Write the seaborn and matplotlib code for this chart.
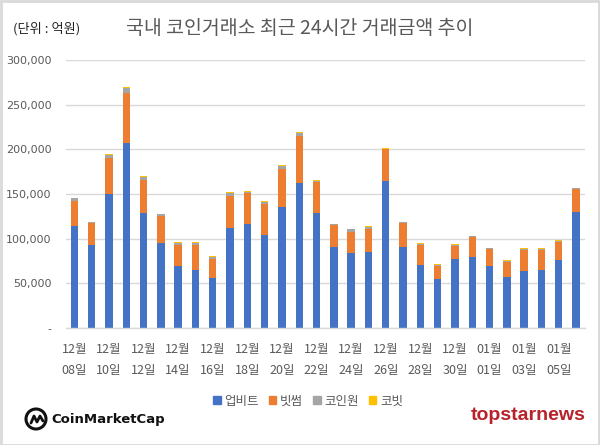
import matplotlib
matplotlib.use("Agg")
import matplotlib.pyplot as plt
import matplotlib.patches as mpatches
import numpy as np
import pandas as pd
import seaborn as sns

# ---- data (억원) ----
dates = ["12/08", "12/09", "12/10", "12/11", "12/12", "12/13", "12/14", "12/15",
         "12/16", "12/17", "12/18", "12/19", "12/20", "12/21", "12/22", "12/23",
         "12/24", "12/25", "12/26", "12/27", "12/28", "12/29", "12/30", "12/31",
         "01/01", "01/02", "01/03", "01/04", "01/05", "01/06"]
upbit = [113700, 93200, 150200, 207200, 129000, 95400, 69700, 65200, 56300, 112200,
         115900, 103600, 134900, 161800, 129000, 90900, 84200, 85400, 164700, 90900,
         70800, 55200, 77500, 79800, 69700, 57400, 63400, 65200, 76400, 130100]
bithumb = [28700, 24200, 40300, 55600, 36900, 29500, 23100, 27600, 21200, 36100,
           34700, 35000, 43300, 53300, 34600, 23900, 23500, 25300, 35400, 26100,
           22000, 14100, 14200, 21600, 18600, 16000, 23800, 22000, 20100, 25300]
coinone = [2600, 1100, 3700, 6300, 2900, 2200, 2600, 2600, 1900, 2700,
           1800, 3000, 3300, 2900, 1500, 1100, 2600, 2600, 800, 1200,
           1100, 1100, 1100, 1100, 800, 1500, 1100, 1100, 800, 800]
korbit = [800, 600, 900, 1100, 1000, 700, 800, 800, 700, 1100,
          1000, 1000, 1000, 1200, 800, 700, 800, 1000, 500, 700,
          700, 700, 700, 700, 700, 700, 700, 700, 700, 600]
series_names = ["업비트", "빗썸", "코인원", "코빗"]
colors = ["#4472C4", "#ED7D31", "#A5A5A5", "#FFC000"]
ytick_vals = [0, 50000, 100000, 150000, 200000, 250000, 300000]

df = pd.DataFrame({"date": dates, "업비트": upbit, "빗썸": bithumb,
                   "코인원": coinone, "코빗": korbit})
cum = df[series_names].cumsum(axis=1)

sns.set_theme(style="white")
plt.rcParams["font.family"] = ["Noto Sans CJK KR", "DejaVu Sans"]

fig = plt.figure(figsize=(6.0, 4.45), dpi=100)
ax = fig.add_axes([65.7 / 600, 1 - 328 / 445, 519 / 600, 268 / 445])

for name, col in reversed(list(zip(series_names, colors))):
    sns.barplot(x=df["date"], y=cum[name], order=dates, color=col, saturation=1,
                width=0.43, errorbar=None, ax=ax, linewidth=0)

ax.set_xlim(-0.5, len(dates) - 0.5)
ax.set_ylim(0, 300000)
ax.set_yticks(ytick_vals)
ax.set_yticklabels(["-" if v == 0 else f"{v:,}" for v in ytick_vals],
                   fontsize=8, color="#595959", family=["DejaVu Sans"])
ax.grid(axis="y", color="#D9D9D9", linewidth=1)
ax.set_axisbelow(True)
for s in ["left", "right", "top"]:
    ax.spines[s].set_visible(False)
ax.spines["bottom"].set_color("#D9D9D9")
ax.spines["bottom"].set_linewidth(1)

pos = list(range(0, len(dates), 2))
labels = [f"{dates[i][:2]}월\n{dates[i][3:]}일" for i in pos]
ax.set_xticks(pos)
ax.set_xticklabels(labels, fontsize=9, color="#595959", linespacing=1.75)
ax.set_xticks([p - 0.5 for p in range(0, len(dates) + 1, 2)], minor=True)
ax.tick_params(axis="x", which="major", length=0, pad=11)
ax.tick_params(axis="x", which="minor", length=5, color="#D9D9D9", width=1, direction="out")
ax.tick_params(axis="y", length=0, pad=10)
ax.set_xlabel("")
ax.set_ylabel("")

# titles
fig.text(300 / 600, 1 - 28 / 445, "국내 코인거래소 최근 24시간 거래금액 추이",
         ha="center", va="center", fontsize=14, color="#595959")
fig.text(13 / 600, 1 - 29 / 445, "(단위 : 억원)", ha="left", va="center",
         fontsize=9.5, color="#222222")

# legend
handles = [mpatches.Patch(color=c, label=n) for n, c in zip(series_names, colors)]
fig.legend(handles=handles, loc="center", bbox_to_anchor=(308 / 600, 1 - 401 / 445),
           ncol=4, frameon=False, fontsize=9, handlelength=0.6, handleheight=0.6,
           handletextpad=0.3, columnspacing=0.8, labelcolor="#595959")

# logos
cx, cy, r = 36 / 600, 1 - 419 / 445, 10 / 600
fig.patches.append(mpatches.Ellipse((cx, cy), 2 * r, 2 * r * 600 / 445, transform=fig.transFigure,
                                    fill=False, edgecolor="#111111", linewidth=2.2))
fig.lines.append(plt.Line2D([cx - 5 / 600, cx - 2 / 600, cx + 1 / 600, cx + 4 / 600, cx + 7 / 600],
                            [cy - 4 / 445, cy + 3 / 445, cy - 3 / 445, cy + 3 / 445, cy - 2 / 445],
                            transform=fig.transFigure, color="#111111", linewidth=2))
fig.text(51 / 600, 1 - 420 / 445, "CoinMarketCap", ha="left", va="center",
         fontsize=9.5, color="#111111", fontweight="bold", family=["DejaVu Sans"])
fig.text(586 / 600, 1 - 415 / 445, "topstarnews", ha="right", va="center",
         fontsize=14, color="#B7222B", fontweight="bold", family=["Liberation Sans"])

# frame
fig.patches.append(mpatches.Rectangle((0.001, 0.001), 0.997, 0.997, transform=fig.transFigure,
                                      fill=False, edgecolor="#D9D9D9", linewidth=2))

fig.savefig("out.png", dpi=100)
